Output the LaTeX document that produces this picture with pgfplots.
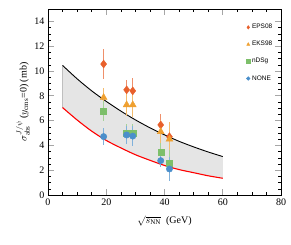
\documentclass[border=0pt]{standalone}
\usepackage{pgfplots}
\pgfplotsset{compat=1.18}
\usepackage{fontspec}
\setmainfont{Liberation Serif}
\newfontfamily\legfont{Liberation Sans}
\definecolor{cEPS}{HTML}{E8602C}
\definecolor{cEKS}{HTML}{EFA030}
\definecolor{cNDS}{HTML}{7DBF6A}
\definecolor{cNON}{HTML}{4A8FCB}
\begin{document}
\begin{tikzpicture}
\begin{axis}[
  name=ax,
  scale only axis,
  width=233pt, height=186pt,
  xmin=0, xmax=80, ymin=0, ymax=15,
  xtick={0,20,40,60,80},
  ytick={0,2,4,6,8,10,12,14},
  minor x tick num=3,
  minor y tick num=3,
  tick align=inside,
  ticks=both,
  major tick length=6pt,
  minor tick length=3pt,
  every major tick/.style={gray!70, line width=0.8pt},
  every minor tick/.style={black, line width=0.4pt},
  axis line style={line width=0.8pt},
  tick label style={font=\fontsize{10}{12}\selectfont},
  /pgf/number format/assume math mode=true,
  xlabel={$\sqrt{s_{\mathrm{NN}}}$\ \ (GeV)},
  ylabel={$\sigma^{J/\psi}_{\mathrm{abs}}$\,($y_{\mathrm{cms}}$=0) (mb)},
  label style={font=\fontsize{10}{12}\selectfont},
  xlabel style={yshift=-4pt},
  ylabel style={yshift=-2pt},
  legend style={draw=none, fill=none, at={(0.985,0.94)}, anchor=north east,
    font=\legfont\fontsize{6.5}{8}\selectfont, row sep=7pt},
  legend image post style={mark size=1.8pt},
  legend cell align=left,
  clip=false,
]
\addplot[fill=gray!20, draw=none, forget plot] coordinates {
 (5,10.45) (10,9.37) (15,8.40) (20,7.55) (25,6.77) (30,6.06) (35,5.42) (40,4.85) (45,4.33) (50,3.88) (55,3.47) (60,3.10)
 (60,1.35) (55,1.55) (50,1.80) (45,2.05) (40,2.38) (35,2.80) (30,3.25) (25,3.80) (20,4.40) (15,5.15) (10,6.05) (5,7.05)
};
\addplot[gray!50, line width=0.6pt, forget plot] coordinates {(5,7.05) (5,10.45)};
\addplot[black, line width=0.9pt, smooth, forget plot] coordinates {
 (5,10.45) (10,9.37) (15,8.40) (20,7.55) (25,6.77) (30,6.06) (35,5.42) (40,4.85) (45,4.33) (50,3.88) (55,3.47) (60,3.10)
};
\addplot[red, line width=1.1pt, smooth, forget plot] coordinates {
 (5,7.05) (10,6.05) (15,5.15) (20,4.40) (25,3.80) (30,3.25) (35,2.80) (40,2.38) (45,2.05) (50,1.80) (55,1.55) (60,1.35)
};
% EPS08
\addplot[only marks, mark=diamond*, mark size=4pt, color=cEPS,
  error bars/.cd, y dir=both, y explicit, error bar style={cEPS!70, line width=1.4pt}, error mark=none]
  coordinates {(19.1,10.56) +- (0,1.2) (27.0,8.48) +- (0,0.8) (29.1,8.40) +- (0,1.0) (38.7,5.65) +- (0,0.9) (41.7,4.70) +- (0,1.2)};
\addlegendentry{EPS08}
% EKS98
\addplot[only marks, mark=triangle*, mark size=4pt, color=cEKS,
  error bars/.cd, y dir=both, y explicit, error bar style={cEKS!70, line width=1.4pt}, error mark=none]
  coordinates {(19.1,7.86) +- (0,0.8) (27.0,7.27) +- (0,0.9) (29.1,7.27) +- (0,1.0) (38.7,5.11) +- (0,0.9) (41.7,4.50) +- (0,1.4)};
\addlegendentry{EKS98}
% nDSg
\addplot[only marks, mark=square*, mark size=3pt, color=cNDS,
  error bars/.cd, y dir=both, y explicit, error bar style={cNDS!70, line width=1.4pt}, error mark=none]
  coordinates {(19.1,6.78) +- (0,0.8) (27.0,5.00) +- (0,0.7) (29.1,4.95) +- (0,0.8) (38.7,3.42) +- (0,0.8) (41.7,2.60) +- (0,1.0)};
\addlegendentry{nDSg}
% NONE
\addplot[only marks, mark=*, mark size=3.2pt, color=cNON,
  error bars/.cd, y dir=both, y explicit, error bar style={cNON!70, line width=1.4pt}, error mark=none]
  coordinates {(19.1,4.71) +- (0,0.7) (27.0,4.84) +- (0,0.7) (29.1,4.75) +- (0,0.8) (38.7,2.77) +- (0,0.5) (41.7,2.10) +- (0,1.0)};
\addlegendentry{NONE}
\end{axis}
\pgfresetboundingbox
\path (ax.south west) ++(-48pt,-49pt) coordinate (bl);
\path (ax.north east) ++(10pt,9pt) coordinate (tr);
\path (bl) rectangle (tr);
\end{tikzpicture}
\end{document}
